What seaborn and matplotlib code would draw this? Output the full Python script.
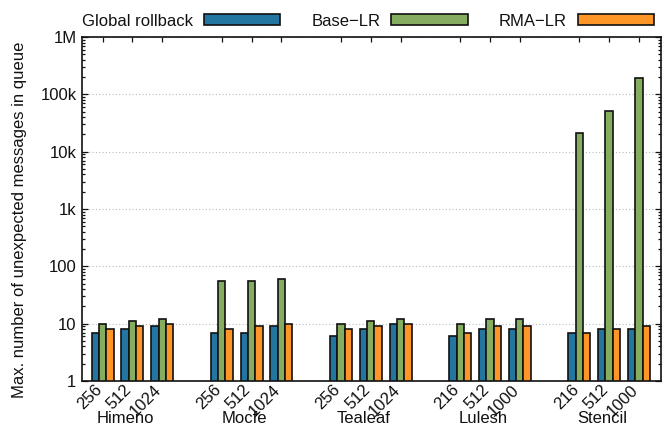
import matplotlib
matplotlib.use("Agg")
import matplotlib.pyplot as plt
import matplotlib.ticker as mticker
import matplotlib.transforms as mtransforms
from matplotlib.patches import Patch
import numpy as np
import pandas as pd
import seaborn as sns

# Benchmarks and the process counts run for each
groups = ["Himeno", "Mocfe", "Tealeaf", "Lulesh", "Stencil"]
scales = [
    ["256", "512", "1024"],
    ["256", "512", "1024"],
    ["256", "512", "1024"],
    ["216", "512", "1000"],
    ["216", "512", "1000"],
]

series = ["Global rollback", "Base\u2212LR", "RMA\u2212LR"]
global_rollback = [7, 8, 9, 7, 7, 9, 6, 8, 10, 6, 8, 8, 7, 8, 8]
base_lr = [10, 11, 12, 55, 55, 59, 10, 11, 12, 10, 12, 12, 21000, 51000, 195000]
rma_lr = [8, 9, 10, 8, 9, 10, 8, 9, 10, 7, 9, 9, 7, 8, 9]

colors = ["#23769f", "#84ad60", "#fd9627"]

y_ticks = [1, 10, 100, 1e3, 1e4, 1e5, 1e6]
y_tick_labels = ["1", "10", "100", "1k", "10k", "100k", "1M"]

# One slot per run, with an empty slot between benchmarks
positions = [g * 4 + k for g in range(len(groups)) for k in range(3)]
run_labels = [s for grp in scales for s in grp]

df = pd.DataFrame({
    "pos": positions * 3,
    "value": global_rollback + base_lr + rma_lr,
    "series": [series[0]] * 15 + [series[1]] * 15 + [series[2]] * 15,
})

sns.set_theme(style="ticks")
plt.rcParams["font.family"] = ["Liberation Sans", "DejaVu Sans"]
plt.rcParams["font.size"] = 12
for key in ("text.color", "axes.labelcolor", "xtick.color", "ytick.color",
            "xtick.labelcolor", "ytick.labelcolor", "axes.edgecolor"):
    plt.rcParams[key] = "#111111"

fig = plt.figure(figsize=(6.69, 4.28), dpi=100)
ax = fig.add_axes([82 / 669, 1 - 381 / 428, 579 / 669, 344 / 428])

sns.barplot(
    data=df, x="pos", y="value", hue="series", hue_order=series,
    palette=colors, native_scale=True, width=0.735, dodge=True,
    edgecolor="#111111", linewidth=1.2, saturation=1, errorbar=None, ax=ax,
)
if ax.get_legend() is not None:
    ax.get_legend().remove()

ax.set_yscale("log")
ax.set_ylim(1, 1e6)
ax.set_xlim(-0.69, 18.74)

ax.yaxis.set_major_locator(mticker.FixedLocator(y_ticks))
ax.yaxis.set_major_formatter(mticker.FixedFormatter(y_tick_labels))
ax.yaxis.set_minor_locator(mticker.LogLocator(base=10, subs=np.arange(2, 10)))
ax.yaxis.set_minor_formatter(mticker.NullFormatter())

ax.set_xticks(positions)
ax.set_xticklabels(run_labels, rotation=45, ha="right", va="baseline",
                   rotation_mode="anchor", fontsize=12)

ax.tick_params(axis="both", which="both", direction="in", top=True, right=True,
               color="#111111", width=0.9)
ax.tick_params(axis="x", which="major", length=3.6, pad=7.0)
ax.tick_params(axis="y", which="major", length=4.5, pad=4, labelsize=12)
ax.tick_params(axis="y", which="minor", length=2.3)
ax.tick_params(axis="x", which="minor", bottom=False, top=False)

for sp in ax.spines.values():
    sp.set_visible(True)
    sp.set_color("#111111")
    sp.set_linewidth(1.2)

ax.yaxis.grid(True, which="major", color="#bbbbbb", linestyle=(0, (1, 2)),
              linewidth=0.8)
ax.xaxis.grid(False)
ax.set_axisbelow(True)

ax.set_xlabel("")
ax.set_ylabel("")
fig.text(20 / 669, 0.486, "Max. number of unexpected messages in queue",
         rotation=90, ha="center", va="center", fontsize=12)

# Benchmark names under each cluster of runs
trans = mtransforms.blended_transform_factory(ax.transData, ax.transAxes)
for g, name in enumerate(groups):
    ax.text(g * 4 + 1 - 0.24, -0.122, name, transform=trans,
            ha="center", va="baseline", fontsize=12)

handles = [Patch(facecolor=c, edgecolor="#111111", linewidth=1.2) for c in colors]
fig.legend(handles, series, loc="center", bbox_to_anchor=(368 / 669, 1 - 21 / 428),
           ncol=3, frameon=False, markerfirst=False, handlelength=4.6,
           handleheight=0.6, handletextpad=0.66, columnspacing=1.86,
           fontsize=12, borderpad=0)

fig.savefig("out.png", dpi=100)
